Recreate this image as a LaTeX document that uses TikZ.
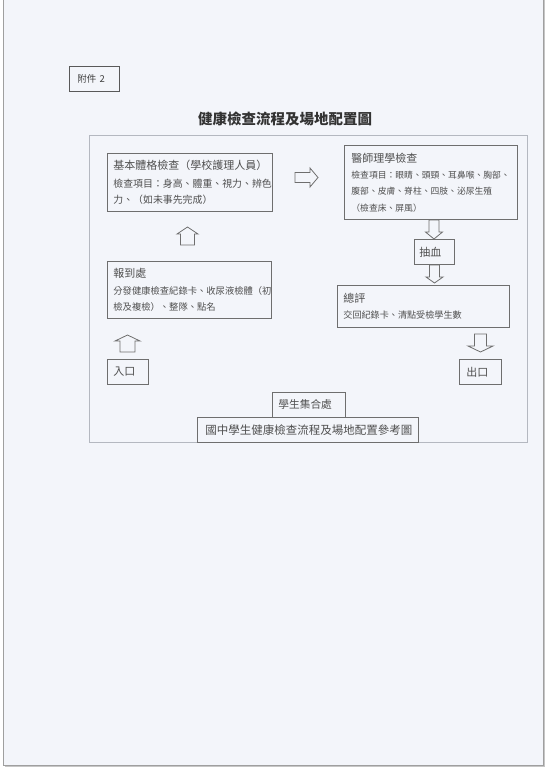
\documentclass[tikz,border=0pt]{standalone}
\usepackage{fontspec}
\setmainfont{Noto Sans CJK TC}
\usetikzlibrary{calc}

\definecolor{pagebg}{HTML}{F3F5FA}
\definecolor{boxline}{HTML}{6E6E6E}
\definecolor{boxtext}{HTML}{4F4F4F}
\definecolor{frameline}{HTML}{B4B8C0}

\tikzset{
  box/.style={draw=boxline, line width=0.8pt, text=boxtext, anchor=north west,
    align=left, inner xsep=6pt, inner ysep=0pt},
  tag/.style={box, font=\fontsize{11}{13}\selectfont},
  info/.style={box, font=\fontsize{9.3}{16.3}\selectfont},
  pics/blockarrow/.style n args={4}{code={
    \draw[boxline, line width=0.8pt] (0,-#2/2) -- ({#1-#4},-#2/2) -- ({#1-#4},-#3/2)
      -- (#1,0) -- ({#1-#4},#3/2) -- ({#1-#4},#2/2) -- (0,#2/2) -- cycle;
  }}
}
\newcommand{\boxhead}[1]{{\fontsize{11}{16.3}\selectfont #1}}

\begin{document}
\begin{tikzpicture}[x=1pt,y=-1pt]
  \useasboundingbox (0,0) rectangle (547,772);
  % page
  \fill[white] (0,0) rectangle (547,772);
  \fill[gray!45] (5,0) rectangle (545,767);
  \filldraw[fill=pagebg, draw=gray!75] (3,-2) rectangle (543,765);

  % heading
  \node[box, inner xsep=8pt, text width=34pt, minimum height=25pt, draw=black!65,
    text=black!75, font=\fontsize{9.5}{11}\selectfont] (fujian) at (69,66) {附件 2};
  \node[text=black!80, font={\fontsize{14.5}{17}\selectfont\bfseries}] (title)
    at (285,118.5) {健康檢查流程及場地配置圖};

  % site frame
  \node[draw=frameline, line width=0.8pt, anchor=north west, minimum width=438pt,
    minimum height=307pt, inner sep=0pt] (site) at (89,135) {};

  % stations
  \node[info, text width=153pt, minimum height=58pt] (jiben) at (107,153)
    {\boxhead{基本體格檢查（學校護理人員）}\\[1pt]
     {\fontsize{9.9}{16.3}\selectfont 檢查項目：身高、體重、視力、辨色}\\
     {\fontsize{9.9}{16.3}\selectfont 力、（如未事先完成）}};
  \node[info, inner xsep=7pt, text width=159pt, minimum height=74pt,
    font=\fontsize{8.8}{16.3}\selectfont] (yishi) at (344,145)
    {\boxhead{醫師理學檢查}\\
     檢查項目：眼睛、頭頸、耳鼻喉、胸部、\\
     腹部、皮膚、脊柱、四肢、泌尿生殖\\
     （檢查床、屏風）};
  \node[info, text width=152pt, minimum height=57pt] (baodao) at (107,261)
    {\boxhead{報到處}\\
     分發健康檢查紀錄卡、收尿液檢體（初\\
     檢及複檢）、整隊、點名};
  \node[info, text width=160pt, minimum height=42pt,
    font=\fontsize{9.1}{16.3}\selectfont] (zongping) at (337,285)
    {\boxhead{總評}\\
     交回紀錄卡、清點受檢學生數};
  \node[tag, inner xsep=5pt, text width=30pt, minimum height=25pt] (chouxue) at (414,239) {抽血};
  \node[tag, text width=29pt, minimum height=25pt] (rukou) at (107,359) {入口};
  \node[tag, inner xsep=7pt, text width=28pt, minimum height=25pt] (chukou) at (459,359) {出口};
  \node[tag, text width=61pt, minimum height=25pt,
    font=\fontsize{10.7}{13}\selectfont] (jihe) at (272,392) {學生集合處};
  \node[tag, inner xsep=8pt, text width=205pt, minimum height=25pt,
    font=\fontsize{11.5}{13}\selectfont] (caption) at (197,417) {國中學生健康檢查流程及場地配置參考圖};

  % flow arrows
  \pic at (295,177.5) {blockarrow={23}{10}{19}{8}};
  \pic[rotate=90] at (187.5,245) {blockarrow={18}{14}{21}{7}};
  \pic[rotate=90] at (127.5,352) {blockarrow={17}{15}{25}{6}};
  \pic[rotate=-90] at (434,220) {blockarrow={19}{10}{17}{7}};
  \pic[rotate=-90] at (434.5,265) {blockarrow={18}{10}{17}{6}};
  \pic[rotate=-90] at (480.5,334) {blockarrow={18}{12}{25}{6}};
\end{tikzpicture}
\end{document}
